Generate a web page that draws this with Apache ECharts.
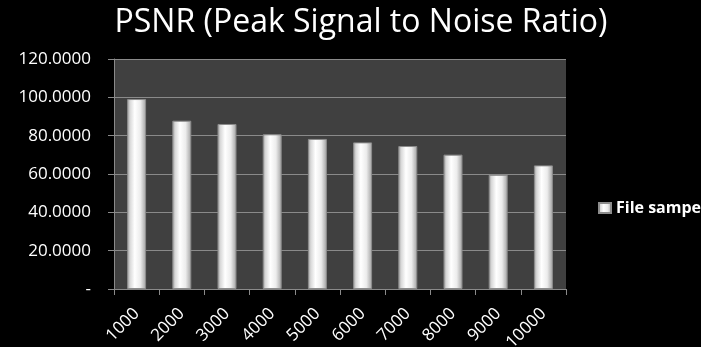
<!DOCTYPE html>
<html>
<head>
<meta charset="utf-8">
<script src="https://cdn.jsdelivr.net/npm/echarts@6/dist/echarts.min.js"></script>
<style>
html,body{margin:0;padding:0;background:#000;}
#c{width:701px;height:347px;}
</style>
</head>
<body>
<div id="c"></div>
<script>
const titleText = "PSNR (Peak Signal to Noise Ratio)";
const categories = ["1000","2000","3000","4000","5000","6000","7000","8000","9000","10000"];
const seriesName = "File sampel";
const psnrValues = [99.1, 87.8, 86.1, 80.7, 78.3, 76.5, 74.6, 70.1, 59.6, 64.5];
const yMin = 0, yMax = 120, yStep = 20;

const chart = echarts.init(document.getElementById('c'), null, {renderer:'canvas'});
const font = "'Open Sans', sans-serif";
chart.setOption({
  backgroundColor: '#000',
  animation: false,
  title: {
    text: titleText, left: 356, top: 2, textAlign: 'center',
    textStyle: {color:'#fff', fontFamily: font, fontSize: 32, fontWeight: 'normal'}
  },
  legend: {
    data: [{name: seriesName, icon: 'rect'}], left: 598, top: 200, padding: 0,
    itemWidth: 12, itemHeight: 10, itemGap: 5,
    textStyle: {color:'#fff', fontFamily: font, fontSize: 16, fontWeight: 'bold'}
  },
  grid: {left: 114, right: 135, top: 59, bottom: 58, containLabel: false,
    outerBoundsMode: 'none',
    show: true, backgroundColor: '#404040', borderWidth: 0},
  xAxis: {
    type: 'category', data: categories, boundaryGap: true,
    axisLine: {lineStyle: {color:'#8a8a8a', width: 1}},
    axisTick: {show: true, alignWithLabel: false, length: 6, lineStyle: {color:'#8a8a8a'}},
    axisLabel: {color:'#fff', fontFamily: font, fontSize: 17, rotate: 45, margin: 22, interval: 0}
  },
  yAxis: {
    type: 'value', min: yMin, max: yMax, interval: yStep,
    axisLine: {show: true, lineStyle: {color:'#8a8a8a'}},
    axisTick: {show: true, length: 6, lineStyle: {color:'#8a8a8a'}},
    splitLine: {lineStyle: {color:'#8a8a8a', width: 1}},
    axisLabel: {color:'#fff', fontFamily: font, fontSize: 17, margin: 23,
      formatter: v => v === 0 ? '-' : v.toFixed(4)}
  },
  series: [{
    name: seriesName, type: 'bar', data: psnrValues, barWidth: '42%',
    itemStyle: {
      borderColor: '#8c8c8c', borderWidth: 1,
      color: new echarts.graphic.LinearGradient(0,0,1,0,[
        {offset:0, color:'#9a9a9a'},
        {offset:0.15, color:'#d8d8d8'},
        {offset:0.4, color:'#ffffff'},
        {offset:0.7, color:'#ececec'},
        {offset:1, color:'#a0a0a0'}
      ])
    }
  }]
});
</script>
</body>
</html>
